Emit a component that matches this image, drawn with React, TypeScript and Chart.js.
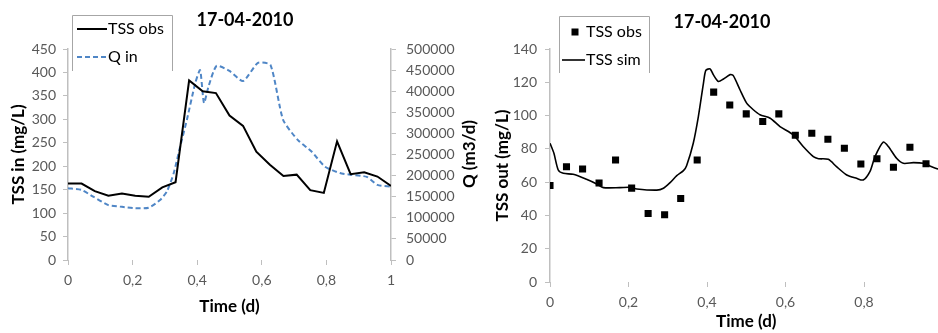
import React, { useEffect, useRef } from 'react';
import { Chart, registerables } from 'chart.js';
Chart.register(...registerables);

const FONT = 'Lato, "Open Sans", sans-serif';
const TICK_COLOR = '#595959';
const AXIS_COLOR = '#bfbfbf';

// ---- Left chart: influent ----
const inTime = [0, 0.042, 0.083, 0.125, 0.167, 0.208, 0.25, 0.292, 0.333, 0.375, 0.417, 0.458, 0.5, 0.542, 0.583, 0.625, 0.667, 0.708, 0.75, 0.792, 0.833, 0.875, 0.917, 0.958, 1];
const tssIn = [163, 163, 147, 137, 142, 137, 135, 155, 166, 383, 360, 356, 308, 286, 231, 203, 179, 182, 149, 143, 253, 183, 187, 178, 158];

const qTime = [0, 0.042, 0.078, 0.125, 0.167, 0.208, 0.25, 0.285, 0.306, 0.327, 0.347, 0.368, 0.394, 0.409, 0.421, 0.435, 0.46, 0.5, 0.542, 0.588, 0.627, 0.666, 0.712, 0.754, 0.796, 0.842, 0.875, 0.925, 0.958, 1];
const qIn = [170000, 166000, 150000, 130000, 126000, 122500, 124000, 142000, 162000, 205000, 268000, 332000, 419000, 450000, 372000, 411000, 460000, 448000, 424000, 467000, 462000, 332000, 284000, 257000, 221000, 206000, 202000, 197000, 178000, 174000];

// ---- Right chart: effluent ----
const obsTime = [0, 0.042, 0.083, 0.125, 0.167, 0.208, 0.25, 0.292, 0.333, 0.375, 0.417, 0.458, 0.5, 0.542, 0.583, 0.625, 0.667, 0.708, 0.75, 0.792, 0.833, 0.875, 0.917, 0.958];
const tssOutObs = [58, 69.3, 67.9, 59.5, 73.3, 56.4, 41.2, 40.4, 50.2, 73.3, 114.1, 106.3, 101, 96.4, 101, 88.2, 89.4, 85.8, 80.4, 70.9, 74.1, 68.9, 81, 71.1];

const simTime = [0, 0.01, 0.021, 0.034, 0.059, 0.093, 0.119, 0.136, 0.178, 0.204, 0.221, 0.272, 0.289, 0.306, 0.323, 0.34, 0.348, 0.365, 0.378, 0.391, 0.397, 0.408, 0.416, 0.429, 0.442, 0.459, 0.467, 0.484, 0.501, 0.518, 0.535, 0.561, 0.586, 0.62, 0.645, 0.671, 0.684, 0.709, 0.73, 0.756, 0.781, 0.798, 0.815, 0.828, 0.849, 0.862, 0.883, 0.9, 0.926, 0.951, 0.968, 0.989, 1];
const tssOutSim = [83.4, 77.3, 67.3, 65.3, 64.7, 61.7, 58.9, 56.7, 56.7, 56.9, 55.9, 55.2, 56.3, 59.7, 63.9, 66.9, 69.9, 83.4, 99.4, 119.5, 127.2, 128, 124.6, 120.5, 122, 124.6, 124, 115.5, 107.5, 103.5, 100.5, 98.4, 93.4, 88.4, 81.4, 75.3, 74.1, 73.7, 69.3, 64.3, 62.3, 61.3, 66.3, 75.3, 84, 81.4, 74.3, 71.3, 71.7, 71.3, 69.7, 67.9, 67.5];

const chartTitle = '17-04-2010';

const pts = (xs: number[], ys: number[]) => xs.map((x, i) => ({ x, y: ys[i] }));
const fmtComma = (v: any) => String(Math.round(Number(v) * 10) / 10).replace('.', ',');
const fmtPlain = (v: any) => String(Math.round(Number(v)));

const decorPlugin = {
  id: 'decor',
  afterDraw(chart: any, _args: any, opts: any) {
    const ctx = chart.ctx as CanvasRenderingContext2D;
    ctx.save();
    // title
    ctx.font = `bold ${opts.titleSize}px ${FONT}`;
    ctx.fillStyle = '#000';
    ctx.textAlign = 'center';
    ctx.textBaseline = 'middle';
    ctx.fillText(opts.title, opts.titleX, opts.titleY);
    // legend box (top and sides)
    const b = opts.box;
    ctx.strokeStyle = '#a6a6a6';
    ctx.lineWidth = 1;
    ctx.beginPath();
    ctx.moveTo(b.l + 0.5, b.b);
    ctx.lineTo(b.l + 0.5, b.t + 0.5);
    ctx.lineTo(b.r + 0.5, b.t + 0.5);
    ctx.lineTo(b.r + 0.5, b.b);
    ctx.stroke();
    // legend entries
    opts.items.forEach((it: any, i: number) => {
      const ds = chart.data.datasets[i];
      if (it.kind === 'line') {
        ctx.strokeStyle = ds.borderColor;
        ctx.lineWidth = ds.borderWidth;
        ctx.setLineDash(ds.borderDash || []);
        ctx.beginPath();
        ctx.moveTo(it.x0, it.y);
        ctx.lineTo(it.x1, it.y);
        ctx.stroke();
        ctx.setLineDash([]);
      } else {
        ctx.fillStyle = ds.backgroundColor;
        ctx.fillRect(it.cx - 3.5, it.y - 3.5, 7, 7);
      }
      ctx.fillStyle = '#000';
      ctx.font = `${opts.legendSize}px ${FONT}`;
      ctx.textAlign = 'left';
      ctx.textBaseline = 'middle';
      ctx.fillText(ds.label, it.tx, it.y);
    });
    // extra rotated axis title
    if (opts.sideTitle) {
      const s = opts.sideTitle;
      ctx.translate(s.x, s.y);
      ctx.rotate(-Math.PI / 2);
      ctx.font = `bold ${opts.axisTitleSize}px ${FONT}`;
      ctx.fillStyle = '#000';
      ctx.textAlign = 'center';
      ctx.textBaseline = 'middle';
      ctx.fillText(s.text, 0, 0);
    }
    ctx.restore();
  },
};

const tickFont = { family: FONT, size: 14 };
const titleFont = { family: FONT, size: 17, weight: 'bold' as const };
const gridOpts = { drawOnChartArea: false, drawTicks: true, tickLength: 5, color: AXIS_COLOR, lineWidth: 1 };

function LeftChart() {
  const ref = useRef<HTMLCanvasElement>(null);
  useEffect(() => {
    const chart = new Chart(ref.current!, {
      type: 'line',
      data: {
        datasets: [
          { label: 'TSS obs', data: pts(inTime, tssIn), yAxisID: 'y', borderColor: '#000', borderWidth: 2, pointRadius: 0, tension: 0 },
          { label: 'Q in', data: pts(qTime, qIn), yAxisID: 'y1', borderColor: '#4f86c6', borderWidth: 2, borderDash: [5, 3], pointRadius: 0, tension: 0.2 },
        ],
      },
      options: {
        responsive: false,
        animation: false,
        layout: { padding: { top: 49, left: 0, right: 0, bottom: 0 } },
        plugins: {
          legend: { display: false },
          title: { display: false },
          tooltip: { enabled: false },
          decor: {
            title: chartTitle, titleX: 245, titleY: 20, titleSize: 18,
            legendSize: 16, axisTitleSize: 17,
            box: { l: 72, r: 172, t: 15, b: 71 },
            items: [
              { kind: 'line', x0: 77, x1: 107, y: 29, tx: 108 },
              { kind: 'line', x0: 77, x1: 107, y: 57, tx: 108 },
            ],
            sideTitle: { text: 'Q (m3/d)', x: 470, y: 154 },
          },
        } as any,
        scales: {
          x: {
            type: 'linear', min: 0, max: 1,
            ticks: { stepSize: 0.2, padding: 7, color: TICK_COLOR, font: tickFont, callback: fmtComma },
            grid: gridOpts,
            border: { display: false },
            title: { display: true, text: 'Time (d)', color: '#000', font: titleFont, padding: { top: 0, bottom: 16 } },
            afterFit: (s: any) => { s.height = 73; },
          },
          y: {
            position: 'left', min: 0, max: 450,
            ticks: { stepSize: 50, padding: 7, color: TICK_COLOR, font: tickFont },
            grid: gridOpts,
            border: { color: AXIS_COLOR, width: 1.5 },
            title: { display: true, text: 'TSS in (mg/L)', color: '#000', font: titleFont, padding: { top: 8, bottom: 0 } },
            afterFit: (s: any) => { s.width = 68; },
          },
          y1: {
            position: 'right', min: 0, max: 500000,
            ticks: { stepSize: 50000, padding: 10, color: TICK_COLOR, font: tickFont, callback: fmtPlain },
            grid: gridOpts,
            border: { color: AXIS_COLOR, width: 1.5 },
            afterFit: (s: any) => { s.width = 89; },
          },
        } as any,
      },
      plugins: [decorPlugin as any],
    });
    return () => chart.destroy();
  }, []);
  return <canvas ref={ref} width={480} height={333} style={{ position: 'absolute', left: 0, top: 0 }} />;
}

function RightChart() {
  const ref = useRef<HTMLCanvasElement>(null);
  useEffect(() => {
    const chart = new Chart(ref.current!, {
      type: 'line',
      data: {
        datasets: [
          { label: 'TSS obs', data: pts(obsTime, tssOutObs), showLine: false, pointStyle: 'rect', pointRadius: 5, borderWidth: 0, backgroundColor: '#000', borderColor: '#000' },
          { label: 'TSS sim', data: pts(simTime, tssOutSim), borderColor: '#000', borderWidth: 1.6, pointRadius: 0, tension: 0.25 },
        ],
      },
      options: {
        responsive: false,
        animation: false,
        layout: { padding: { top: 49, left: 0, right: 7.5, bottom: 0 } },
        plugins: {
          legend: { display: false },
          title: { display: false },
          tooltip: { enabled: false },
          decor: {
            title: chartTitle, titleX: 252, titleY: 22, titleSize: 18,
            legendSize: 16, axisTitleSize: 17,
            box: { l: 89, r: 179, t: 16, b: 73 },
            items: [
              { kind: 'point', cx: 105, y: 32, tx: 116 },
              { kind: 'line', x0: 92, x1: 115, y: 60, tx: 116 },
            ],
          },
        } as any,
        scales: {
          x: {
            type: 'linear', min: 0, max: 1,
            ticks: { stepSize: 0.2, padding: 7, color: TICK_COLOR, font: tickFont, callback: fmtComma },
            grid: gridOpts,
            border: { display: false },
            title: { display: true, text: 'Time (d)', color: '#000', font: titleFont, padding: { top: 0, bottom: 1 } },
            afterFit: (s: any) => { s.height = 51; s.paddingLeft = 0; s.paddingRight = 0; },
          },
          y: {
            position: 'left', min: 0, max: 140,
            ticks: { stepSize: 20, padding: 8, color: TICK_COLOR, font: tickFont },
            grid: gridOpts,
            border: { color: AXIS_COLOR, width: 1.5 },
            title: { display: true, text: 'TSS out (mg/L)', color: '#000', font: titleFont, padding: { top: 22, bottom: 0 } },
            afterFit: (s: any) => { s.width = 80; },
          },
        } as any,
      },
      plugins: [decorPlugin as any],
    });
    return () => chart.destroy();
  }, []);
  return <canvas ref={ref} width={480} height={333} style={{ position: 'absolute', left: 470, top: 0 }} />;
}

export default function App() {
  return (
    <div style={{ position: 'fixed', left: 0, top: 0, width: 938, height: 333, overflow: 'hidden', background: '#fff' }}>
      <LeftChart />
      <RightChart />
    </div>
  );
}
